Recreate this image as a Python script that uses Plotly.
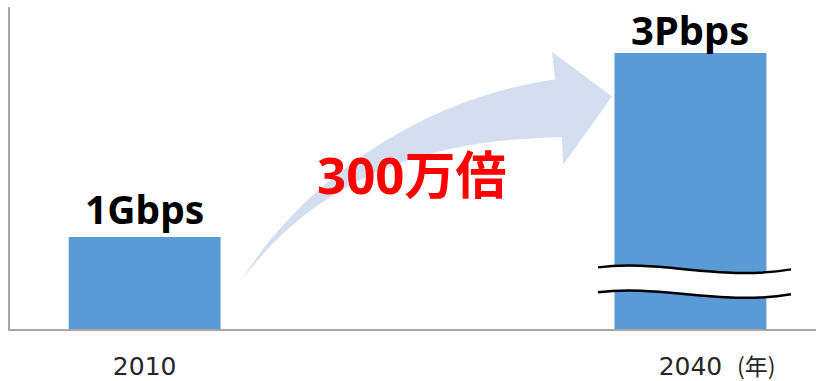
import plotly.graph_objects as go

# Data
years = [2010, 2040]
heights = [1, 3]                 # bar heights on a broken value axis
value_labels = ["1Gbps", "3Pbps"]
tick_labels = ["2010", "2040"]
growth_label = "300万倍"
unit_label = "(年)"

# Layout constants
W, H = 816, 381
ML, MR, MT, MB = 10, 0, 7, 50
PW, PH = W - ML - MR, H - MT - MB
X_RANGE = [2002.6, 2046.9]
Y_RANGE = [0, 3.5]
BAR_WIDTH = 8.35

BAR_COLOR = "#5B9BD5"
ARROW_COLOR = "#D3DFF0"
AXIS_COLOR = "#A6A6A6"
FONT = "Noto Sans, Noto Sans CJK JP, sans-serif"


def pp(px, py):
    """Canvas pixel -> paper coordinate string."""
    return f"{(px - ML) / PW:.5f},{(H - MB - py) / PH:.5f}"


def path(cmds):
    out = []
    for c in cmds:
        op, pts = c[0], c[1:]
        out.append(op + " " + " ".join(pp(*p) for p in pts))
    return " ".join(out) + " Z"


fig = go.Figure()
fig.add_trace(go.Bar(
    x=years, y=heights, width=BAR_WIDTH,
    marker=dict(color=BAR_COLOR, line=dict(width=0)),
    hoverinfo="skip",
))

# Curved growth arrow
arrow = path([
    ("M", (243, 280)),
    ("C", (295, 195), (410, 100), (555, 80)),
    ("L", (552, 52)),
    ("L", (612, 97)),
    ("L", (563, 166)),
    ("L", (562, 138)),
    ("C", (450, 140), (330, 165), (243, 280)),
])

# Axis-break band across the tall bar
band = path([
    ("M", (598, 269)),
    ("C", (660, 261), (720, 283), (791, 271)),
    ("L", (791, 296)),
    ("C", (720, 308), (660, 286), (598, 294)),
])
line1 = "M " + pp(598, 269) + " C " + " ".join(pp(*p) for p in [(660, 261), (720, 283), (791, 271)])
line2 = "M " + pp(598, 294) + " C " + " ".join(pp(*p) for p in [(660, 286), (720, 308), (791, 296)])

shapes = [
    dict(type="path", path=arrow, xref="paper", yref="paper",
         fillcolor=ARROW_COLOR, line=dict(width=0), layer="below"),
    dict(type="path", path=band, xref="paper", yref="paper",
         fillcolor="white", line=dict(width=0), layer="above"),
    dict(type="path", path=line1, xref="paper", yref="paper",
         line=dict(color="black", width=2.5), layer="above"),
    dict(type="path", path=line2, xref="paper", yref="paper",
         line=dict(color="black", width=2.5), layer="above"),
]

annotations = [
    dict(x=years[0], y=heights[0], xref="x", yref="y", text=f"<b>{value_labels[0]}</b>",
         showarrow=False, yanchor="bottom", yshift=0,
         font=dict(family=FONT, size=39, color="black")),
    dict(x=years[1], y=heights[1], xref="x", yref="y", text=f"<b>{value_labels[1]}</b>",
         showarrow=False, yanchor="bottom", yshift=-6,
         font=dict(family=FONT, size=40, color="black")),
    dict(x=(412 - ML) / PW, y=(H - MB - 175) / PH, xref="paper", yref="paper",
         text=f"<b>{growth_label}</b>", showarrow=False, xanchor="center", yanchor="middle",
         font=dict(family=FONT, size=51, color="#FF0000")),
    dict(x=(756 - ML) / PW, y=(H - MB - 367) / PH, xref="paper", yref="paper",
         text=unit_label, showarrow=False, xanchor="center", yanchor="middle",
         font=dict(family="Noto Sans CJK JP", size=23, color="#262626")),
]

fig.update_layout(
    width=W, height=H,
    margin=dict(l=ML, r=MR, t=MT, b=MB, pad=0),
    paper_bgcolor="white", plot_bgcolor="white",
    showlegend=False,
    shapes=shapes,
    annotations=annotations,
    xaxis=dict(range=X_RANGE, tickvals=years, ticktext=tick_labels,
               showgrid=False, zeroline=False, showline=True,
               linecolor=AXIS_COLOR, linewidth=1.5, ticks="",
               tickfont=dict(family="DejaVu Sans", size=25, color="#262626"),
               ticklabelstandoff=14),
    yaxis=dict(range=Y_RANGE, showgrid=False, zeroline=False, showline=True,
               linecolor=AXIS_COLOR, linewidth=2, showticklabels=False, ticks=""),
)

fig.write_html("out.html")
